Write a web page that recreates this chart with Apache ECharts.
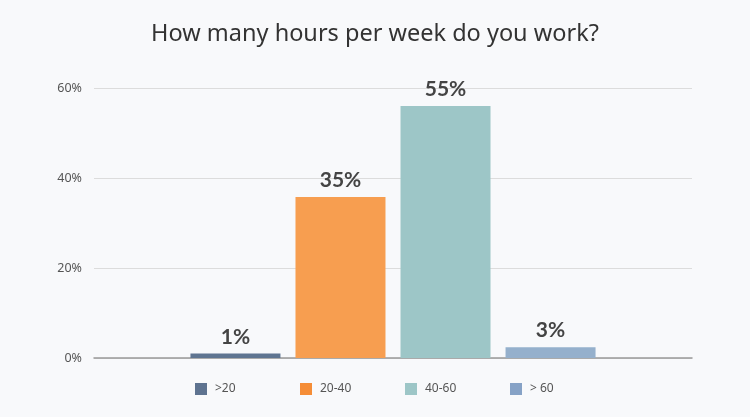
<!DOCTYPE html>
<html>
<head>
<meta charset="utf-8">
<script src="https://cdn.jsdelivr.net/npm/echarts@6/dist/echarts.min.js"></script>
<style>
  html, body { margin: 0; padding: 0; background: #f8f9fb; }
  #main { width: 750px; height: 417px; }
</style>
</head>
<body>
<div id="main"></div>
<script>
// data
var groups = ['>20', '20-40', '40-60', '> 60']
var shares = [1, 35.8, 56, 2.4]
var shareLabels = ['1%', '35%', '55%', '3%']
var barColors = ['#5f7591', '#f79e50', '#9dc6c7', '#95b0cc']
var iconColors = ['#5e7390', '#f58d37', '#9dc6c7', '#86a2c6']
var yTicks = [0, 20, 40, 60]

var chart = echarts.init(document.getElementById('main'))

var series = groups.map(function (name, i) {
  return {
    name: name,
    type: 'bar',
    barWidth: 90,
    barGap: '16.7%',
    itemStyle: { color: barColors[i] },
    label: {
      show: true,
      position: 'top',
      distance: 6,
      formatter: shareLabels[i],
      color: '#444',
      fontFamily: 'Lato',
      fontWeight: 'bold',
      fontSize: 21
    },
    emphasis: { disabled: true },
    data: [shares[i]]
  }
})

// one legend per item so they sit evenly under the bars
var legends = groups.map(function (name, i) {
  return {
    data: [{ name: name, itemStyle: { color: iconColors[i] } }],
    left: 195 + 105 * i,
    top: 383,
    padding: 0,
    itemWidth: 12,
    itemHeight: 12,
    icon: 'rect',
    selectedMode: false,
    textStyle: {
      fontFamily: 'Noto Sans',
      fontSize: 12,
      color: '#555',
      padding: [0, 0, 0, 3]
    }
  }
})

var option = {
  backgroundColor: '#f8f9fb',
  animation: false,
  title: {
    text: 'How many hours per week do you work?',
    left: 'center',
    top: 17,
    textStyle: {
      fontFamily: 'Noto Sans',
      fontWeight: 'normal',
      fontSize: 23.5,
      color: '#333'
    }
  },
  grid: { left: 94, right: 58, top: 88, bottom: 59 },
  legend: legends,
  xAxis: {
    type: 'category',
    data: [''],
    axisLine: { lineStyle: { color: '#999', width: 1.5 } },
    axisTick: { show: false },
    axisLabel: { show: false }
  },
  yAxis: {
    type: 'value',
    min: yTicks[0],
    max: yTicks[yTicks.length - 1],
    interval: 20,
    axisLine: { show: false },
    axisTick: { show: false },
    axisLabel: {
      formatter: '{value}%',
      margin: 12,
      fontFamily: 'Noto Sans',
      fontSize: 12.5,
      color: '#555'
    },
    splitLine: { lineStyle: { color: '#dcdcdc' } }
  },
  series: series
}

chart.setOption(option)
</script>
</body>
</html>
